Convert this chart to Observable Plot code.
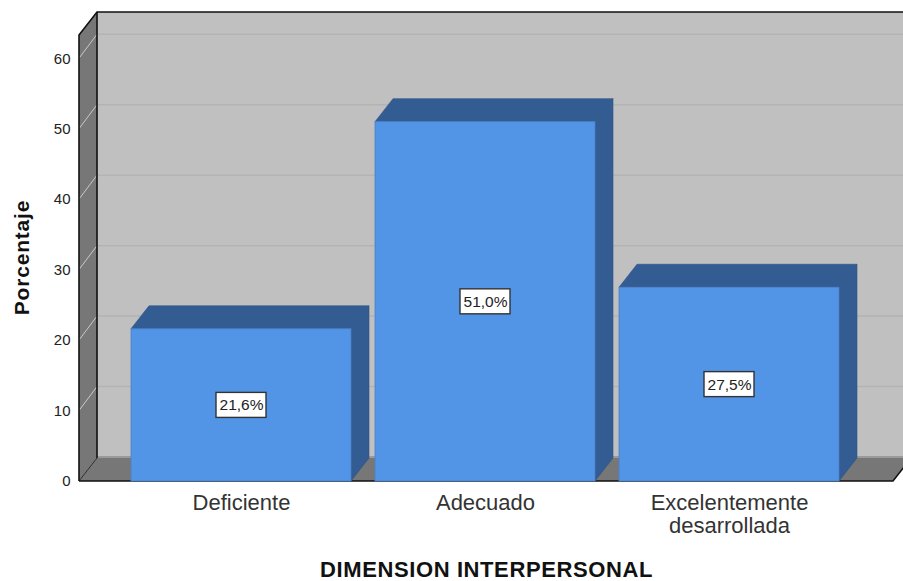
<!DOCTYPE html>
<html lang="es">
<head>
<meta charset="utf-8">
<script src="https://cdn.jsdelivr.net/npm/d3@7"></script>
<script src="https://cdn.jsdelivr.net/npm/@observablehq/plot@0.6"></script>
<style>
html,body{margin:0;padding:0;background:#fff;overflow:hidden}
svg{display:block}
.spaced-x text{letter-spacing:.6px}
.spaced-y text{letter-spacing:.8px}
</style>
</head>
<body>
<div id="chart"></div>
<script>
const categories = ["Deficiente", "Adecuado", "Excelentemente\ndesarrollada"];
const percentages = [21.6, 51.0, 27.5];
const valueLabels = ["21,6%", "51,0%", "27,5%"];
const yTicks = [0, 10, 20, 30, 40, 50, 60];
const yTop = 63.3;
const xTitle = "DIMENSION INTERPERSONAL";
const yTitle = "Porcentaje";

// Oblique projection depth, in pixels, and colours
const depthX = 18, depthY = -23;
const wallFill = "#c0c0c0", sideFill = "#777777", gridBack = "#b3b3b3", gridSide = "#c9c9c9";
const barFront = "#5294e6", barDark = "#335c92";
const fontFamily = "'Liberation Sans', Arial, sans-serif";

const rows = categories.map((c, i) => ({category: c, value: percentages[i], label: valueLabels[i]}));
const svgNS = "http://www.w3.org/2000/svg";

function el(name, attrs, parent) {
  const e = document.createElementNS(svgNS, name);
  for (const k in attrs) e.setAttribute(k, attrs[k]);
  parent.appendChild(e);
  return e;
}
const pts = a => a.map(p => p.join(",")).join(" ");

// 3D room (walls, floor, grid) drawn from the chart's scales
function room(index, scales, values, dim) {
  const g = document.createElementNS(svgNS, "g");
  const x0 = dim.marginLeft, x1 = dim.width - dim.marginRight;
  const y0 = scales.y(0), yT = scales.y(yTop);
  el("polygon", {points: pts([[x0+depthX,yT+depthY],[x1+depthX,yT+depthY],[x1+depthX,y0+depthY],[x0+depthX,y0+depthY]]), fill: wallFill}, g);
  el("polygon", {points: pts([[x0,y0],[x1,y0],[x1+depthX,y0+depthY],[x0+depthX,y0+depthY]]), fill: sideFill}, g);
  el("line", {x1:x0+depthX, x2:x1+depthX, y1:y0+depthY-1, y2:y0+depthY-1, stroke:"#9a9a9a", "stroke-width":2}, g);
  el("polygon", {points: pts([[x0,y0],[x0+depthX,y0+depthY],[x0+depthX,yT+depthY],[x0,yT]]), fill: sideFill}, g);
  for (const t of yTicks.slice(1)) {
    const y = scales.y(t);
    el("line", {x1:x0+depthX, x2:x1+depthX, y1:y+depthY-1, y2:y+depthY-1, stroke:gridBack, "stroke-width":1.5}, g);
    el("line", {x1:x0, x2:x0+depthX, y1:y, y2:y+depthY-1, stroke:gridSide, "stroke-width":1}, g);
  }
  const ink = {stroke:"#111", "stroke-width":1.6, fill:"none"};
  el("polyline", {points: pts([[x0,y0],[x0,yT],[x0+depthX,yT+depthY],[x1+depthX,yT+depthY]]), ...ink}, g);
  el("line", {x1:x0+depthX, x2:x0+depthX, y1:yT+depthY, y2:y0+depthY, ...ink}, g);
  el("line", {x1:x0, x2:x0+depthX, y1:y0, y2:y0+depthY, stroke:"#111", "stroke-width":0.8}, g);
  el("polyline", {points: pts([[x0,y0],[x1,y0],[x1+depthX,y0+depthY]]), ...ink}, g);
  return g;
}

// Top and right faces of each bar
function barFaces(index, scales) {
  const g = document.createElementNS(svgNS, "g");
  const bw = scales.x.bandwidth(), y0 = scales.y(0);
  for (const d of rows) {
    const l = scales.x(d.category), r = l + bw, t = scales.y(d.value);
    el("polygon", {points: pts([[l,t],[r,t],[r+depthX,t+depthY],[l+depthX,t+depthY]]), fill: barDark, stroke:"#2e5485", "stroke-width":0.6}, g);
    el("polygon", {points: pts([[r,t],[r+depthX,t+depthY],[r+depthX,y0+depthY],[r,y0]]), fill: barDark, stroke:"#2e5485", "stroke-width":0.6}, g);
  }
  return g;
}

// White boxes behind the value labels
function labelBoxes(index, scales) {
  const g = document.createElementNS(svgNS, "g");
  const bw = scales.x.bandwidth();
  for (const d of rows) {
    const cx = scales.x(d.category) + bw / 2, cy = scales.y(d.value / 2);
    el("rect", {x: cx-25, y: cy-12.5, width: 50, height: 25, fill:"#fff", stroke:"#333", "stroke-width":1.4}, g);
  }
  return g;
}

const plot = Plot.plot({
  width: 903,
  height: 581,
  marginLeft: 79,
  marginRight: 10,
  marginTop: 35,
  marginBottom: 100,
  style: {fontFamily, background: "#fff", overflow: "hidden"},
  x: {type: "band", domain: categories, paddingInner: 0.1, paddingOuter: 0.216, align: 0.49, label: null},
  y: {domain: [0, yTop], label: null},
  marks: [
    room,
    barFaces,
    Plot.barY(rows, {x: "category", y: "value", fill: barFront, stroke: "#4a80c8", strokeWidth: 0.8}),
    labelBoxes,
    Plot.text(rows, {x: "category", y: d => d.value / 2, text: "label", fontSize: 15.5, fill: "#222"}),
    Plot.axisY({ticks: yTicks, tickSize: 0, tickPadding: 9, label: null, fontSize: 15, color: "#222", tickFormat: d => String(d)}),
    Plot.axisX({tickSize: 0, tickPadding: 12, label: null, fontSize: 22, lineHeight: 1.05, fill: "#333"}),
    Plot.text([xTitle], {frameAnchor: "bottom", dy: 95, text: d => d, fontSize: 22, fontWeight: "bold", fill: "#111", className: "spaced-x"}),
    Plot.text([yTitle], {frameAnchor: "left", textAnchor: "middle", dx: -57, dy: -1, rotate: -90, text: d => d, fontSize: 21, fontWeight: "bold", fill: "#111", className: "spaced-y"})
  ]
});
document.getElementById("chart").appendChild(plot);
</script>
</body>
</html>
